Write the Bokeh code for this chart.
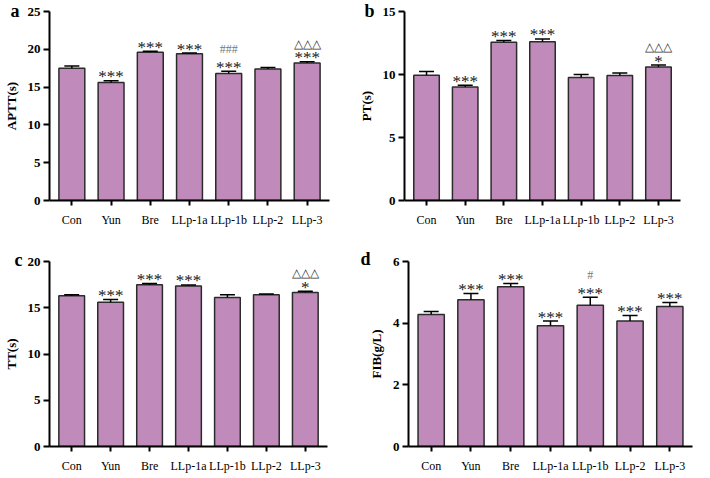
from bokeh.plotting import figure
from bokeh.layouts import column, row
from bokeh.models import (ColumnDataSource, FactorRange, Range1d, FixedTicker,
                          Whisker, TeeHead)
from bokeh.embed import file_html
from bokeh.resources import INLINE
from bokeh.core.properties import value

groups = ["Con", "Yun", "Bre", "LLp-1a", "LLp-1b", "LLp-2", "LLp-3"]

aptt = [17.5, 15.6, 19.6, 19.4, 16.8, 17.4, 18.2]
aptt_err = [0.3, 0.25, 0.15, 0.1, 0.3, 0.2, 0.15]
aptt_sig = ["", "***", "***", "***", "***", "", "***"]
aptt_sig2 = ["", "", "", "", "###", "", "△△△"]

pt = [9.95, 9.0, 12.55, 12.6, 9.76, 9.92, 10.6]
pt_err = [0.28, 0.15, 0.15, 0.22, 0.24, 0.2, 0.15]
pt_sig = ["", "***", "***", "***", "", "", "*"]
pt_sig2 = ["", "", "", "", "", "", "△△△"]

tt = [16.3, 15.6, 17.5, 17.35, 16.1, 16.4, 16.65]
tt_err = [0.1, 0.28, 0.12, 0.12, 0.3, 0.1, 0.14]
tt_sig = ["", "***", "***", "***", "", "", "*"]
tt_sig2 = ["", "", "", "", "", "", "△△△"]

fib = [4.28, 4.76, 5.18, 3.92, 4.58, 4.07, 4.54]
fib_err = [0.1, 0.2, 0.11, 0.15, 0.26, 0.18, 0.13]
fib_sig = ["", "***", "***", "***", "***", "***", "***"]
fib_sig2 = ["", "", "", "", "#", "", ""]

BAR = "#C08BBA"
SERIF = "Liberation Serif"


def panel(letter, ylabel, vals, errs, sig, sig2, ymax, ticks,
          w, h, mbl, mbr, mbt, mbb, lx, ly):
    upper = [v + e for v, e in zip(vals, errs)]
    off2 = [-22 if "#" in s else -18 for s in sig2]
    col2 = ["#777777" if "#" in s else "#333333" for s in sig2]
    src = ColumnDataSource(dict(x=groups, top=vals, upper=upper,
                                sig=sig, sig2=sig2, off2=off2, col2=col2))
    p = figure(x_range=FactorRange(*groups, range_padding=0.02),
               y_range=Range1d(0, ymax), width=w, height=h,
               output_backend="svg", toolbar_location=None,
               min_border_left=mbl, min_border_right=mbr,
               min_border_top=mbt, min_border_bottom=mbb)
    p.vbar(x="x", top="top", width=0.66, source=src, fill_color=BAR,
           line_color="#2b2b2b", line_width=1.5)
    p.add_layout(Whisker(source=src, base="x", upper="upper", lower="top",
                         line_color="black", line_width=1.5, lower_head=None,
                         upper_head=TeeHead(size=15, line_color="black",
                                            line_width=1.5),
                         level="overlay"))
    p.text(x="x", y="upper", text="sig", source=src, text_align="center",
           text_baseline="alphabetic", y_offset=-4, text_font_size="17px",
           text_font=value(SERIF), text_color="#1a1a1a")
    p.text(x="x", y="upper", text="sig2", source=src, text_align="center",
           text_baseline="alphabetic", y_offset="off2", text_font_size="12px",
           text_font=value(SERIF), text_color="col2")
    p.title.text = letter
    p.title.align = "left"
    p.title.offset = lx
    p.title.standoff = ly
    p.title.text_font = SERIF
    p.title.text_font_size = "18px"
    p.title.text_font_style = "bold"
    p.title.text_color = "black"
    p.xgrid.grid_line_color = None
    p.ygrid.grid_line_color = None
    p.outline_line_color = None
    p.yaxis.ticker = FixedTicker(ticks=ticks)
    p.yaxis.minor_tick_line_color = None
    p.axis.axis_line_width = 2
    p.axis.axis_line_color = "black"
    p.axis.major_tick_line_width = 2
    p.axis.major_tick_line_color = "black"
    p.axis.major_tick_in = 0
    p.yaxis.major_tick_out = 6
    p.xaxis.major_tick_out = 5
    p.yaxis.major_label_standoff = 3
    p.xaxis.major_label_standoff = 7
    p.axis.major_label_text_font = SERIF
    p.axis.major_label_text_color = "black"
    p.yaxis.major_label_text_font_style = "bold"
    p.yaxis.major_label_text_font_size = "13px"
    p.xaxis.major_label_text_font_size = "12px"
    p.yaxis.axis_label = ylabel
    p.yaxis.axis_label_text_font = SERIF
    p.yaxis.axis_label_text_font_style = "bold"
    p.yaxis.axis_label_text_font_size = "13px"
    p.yaxis.axis_label_standoff = 6
    p.yaxis.axis_label_text_color = "black"
    return p


pa = panel("a", "APTT(s)", aptt, aptt_err, aptt_sig, aptt_sig2, 25,
           [0, 5, 10, 15, 20, 25], 347, 229, 40, 18, 11, 29, -39, -18)
pb = panel("b", "PT(s)", pt, pt_err, pt_sig, pt_sig2, 15,
           [0, 5, 10, 15], 347, 229, 57, 14, 11, 29, -40, -18)
pc = panel("c", "TT(s)", tt, tt_err, tt_sig, tt_sig2, 20,
           [0, 5, 10, 15, 20], 347, 246, 36, 20, 32, 26, -35, -16)
pd = panel("d", "FIB(g/L)", fib, fib_err, fib_sig, fib_sig2, 6,
           [0, 2, 4, 6], 347, 246, 61, 2, 32, 26, -48, -15)

layout = column(row(pa, pb), row(pc, pd))
open("out.html", "w").write(file_html(layout, INLINE))
